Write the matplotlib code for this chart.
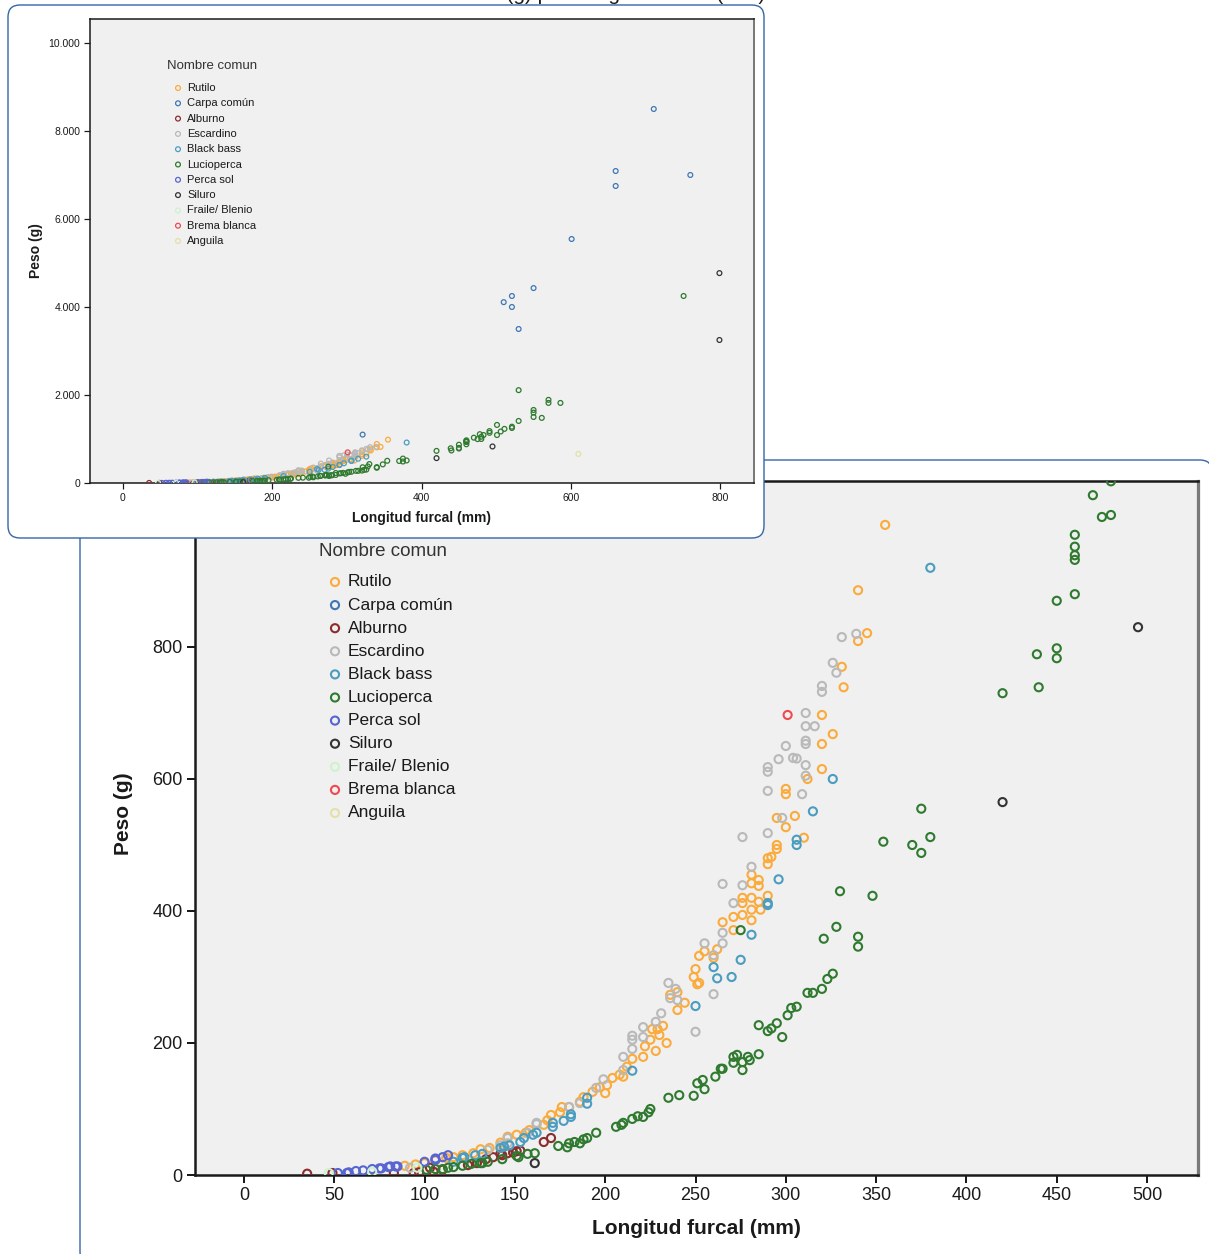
import matplotlib.pyplot as plt
import matplotlib.patches as mpatches
from matplotlib.transforms import IdentityTransform

plt.rcParams['font.family'] = ['Liberation Sans', 'DejaVu Sans']

# species names and colours (legend order)
species = ['Rutilo', 'Carpa común', 'Alburno', 'Escardino', 'Black bass', 'Lucioperca',
           'Perca sol', 'Siluro', 'Fraile/ Blenio', 'Brema blanca', 'Anguila']
colors = ['#fbab3c', '#3f77b4', '#8c2d2d', '#b9b9b9', '#4b9dc0', '#2f7a2f',
          '#5765d3', '#333333', '#cdf3cd', '#ee4b50', '#e3e0a8']

# longitud furcal (mm) / peso (g)
rutilo_x = [355, 340, 345, 340, 331, 332, 320, 326, 320, 320, 312, 300, 300, 305, 295, 300, 310, 295, 295,
            292, 290, 290, 281, 281, 285, 285, 290, 276, 276, 281, 285, 286, 281, 276, 271, 281, 265, 271,
            262, 255, 252, 260, 250, 249, 251, 252, 240, 236, 240, 244, 232, 229, 226, 230, 225, 234, 228,
            222, 221, 215, 212, 210, 208, 204, 201, 200, 197, 193, 188, 186, 180, 176, 175, 170, 168, 166,
            158, 156, 151, 146, 142, 136, 131, 127, 121, 116, 112, 106, 100, 95, 89]
rutilo_y = [985, 886, 821, 809, 770, 739, 697, 668, 653, 615, 600, 585, 577, 544, 541, 527, 511, 500, 494,
            482, 480, 471, 455, 442, 447, 438, 423, 420, 412, 420, 414, 402, 402, 394, 391, 386, 383, 371,
            342, 339, 332, 329, 312, 300, 289, 291, 277, 273, 250, 261, 226, 221, 221, 212, 205, 200, 188,
            195, 179, 176, 164, 149, 152, 147, 136, 124, 133, 126, 118, 111, 103, 103, 95, 91, 83, 76,
            68, 64, 61, 58, 49, 41, 39, 33, 30, 27, 26, 22, 18, 16, 14]

carpa_x = [711, 660, 660, 760, 601, 550, 521, 510, 521, 530, 321]
carpa_y = [8500, 7090, 6750, 7000, 5545, 4430, 4250, 4110, 4000, 3500, 1100]

alburno_x = [35, 49, 83, 94, 97, 103, 105, 110, 124, 129, 134, 138, 142, 143, 146, 149, 151, 153, 166, 170]
alburno_y = [2, 3, 3, 3, 4, 11, 5, 8, 15, 18, 24, 27, 32, 30, 33, 34, 36, 37, 50, 56]

escardino_x = [339, 331, 326, 328, 320, 320, 311, 311, 316, 300, 311, 311, 296, 304, 306, 311, 290, 290, 311,
               290, 309, 298, 290, 276, 281, 265, 276, 271, 265, 265, 255, 260, 235, 239, 236, 240, 260,
               250, 231, 228, 221, 221, 215, 215, 215, 210, 210, 199, 195, 186, 180, 162, 162, 157, 146,
               146, 142, 135, 92]
escardino_y = [820, 815, 776, 761, 741, 732, 700, 680, 680, 650, 658, 653, 630, 632, 631, 621, 618, 611, 605,
               582, 577, 541, 518, 512, 467, 441, 439, 412, 367, 351, 351, 333, 291, 282, 268, 265, 274,
               217, 245, 232, 224, 209, 211, 205, 191, 179, 159, 145, 132, 109, 103, 79, 77, 64, 56,
               48, 45, 38, 11]

blackbass_x = [380, 326, 315, 306, 306, 296, 290, 290, 281, 275, 270, 262, 260, 250, 215, 190, 190, 181, 181,
               177, 171, 171, 162, 160, 155, 153, 147, 144, 142, 132, 128, 122, 121, 116]
blackbass_y = [920, 600, 551, 508, 500, 448, 412, 409, 364, 326, 300, 298, 315, 256, 158, 117, 108, 92, 88,
               82, 79, 73, 64, 61, 56, 50, 45, 43, 41, 32, 30, 27, 26, 20]

lucio_x = [751, 586, 570, 570, 561, 550, 550, 550, 530, 530, 521, 521, 511, 506, 501, 501, 491, 491, 483, 478,
           480, 470, 475, 480, 460, 460, 460, 460, 460, 450, 450, 450, 439, 440, 420, 375, 380, 370, 375,
           354, 330, 348, 328, 340, 340, 321, 326, 323, 320, 315, 312, 306, 303, 301, 298, 295, 292, 290,
           285, 275, 285, 280, 279, 276, 276, 273, 271, 271, 265, 264, 261, 255, 254, 251, 249, 241, 235,
           225, 224, 221, 218, 215, 210, 209, 206, 195, 190, 188, 186, 183, 180, 179, 174, 161, 157, 152,
           151, 143, 135, 132, 131, 126, 121, 116, 113, 110, 106, 101]
lucio_y = [4250, 1820, 1890, 1820, 1480, 1660, 1600, 1500, 2110, 1410, 1280, 1250, 1230, 1170, 1320, 1090, 1180,
           1140, 1090, 1110, 1051, 1030, 997, 1000, 970, 952, 939, 932, 880, 870, 798, 783, 789, 739, 730,
           555, 512, 500, 488, 505, 430, 423, 376, 361, 346, 358, 305, 297, 282, 276, 276, 255, 253, 242,
           209, 230, 222, 218, 227, 371, 183, 174, 179, 159, 171, 182, 179, 170, 161, 161, 149, 130, 144,
           139, 120, 121, 117, 100, 95, 88, 89, 85, 79, 76, 73, 64, 56, 54, 48, 50, 48, 42, 44, 33, 32,
           27, 29, 24, 20, 18, 18, 17, 14, 12, 11, 9, 9, 8]

percasol_x = [52, 57, 58, 62, 66, 71, 75, 76, 80, 81, 84, 85, 100, 106, 106, 110, 113]
percasol_y = [3, 3, 4, 6, 7, 9, 10, 10, 12, 13, 13, 13, 20, 23, 25, 27, 30]

siluro_x = [799, 799, 495, 420, 161]
siluro_y = [4770, 3250, 830, 565, 18]

fraile_x = [47, 71, 96]
fraile_y = [3, 5, 11]

brema_x = [301]
brema_y = [697]

anguila_x = [610]
anguila_y = [660]

series_x = [rutilo_x, carpa_x, alburno_x, escardino_x, blackbass_x, lucio_x,
            percasol_x, siluro_x, fraile_x, brema_x, anguila_x]
series_y = [rutilo_y, carpa_y, alburno_y, escardino_y, blackbass_y, lucio_y,
            percasol_y, siluro_y, fraile_y, brema_y, anguila_y]

# ticks
top_xticks = [0, 200, 400, 600, 800]
top_yticks = [0, 2000, 4000, 6000, 8000, 10000]
top_yticklabels = ['0', '2.000', '4.000', '6.000', '8.000', '10.000']
low_xticks = [0, 50, 100, 150, 200, 250, 300, 350, 400, 450, 500]
low_yticks = [0, 200, 400, 600, 800]

W, H = 1209, 1254
fig = plt.figure(figsize=(W / 100, H / 100), dpi=100)
fig.patch.set_facecolor('white')


def px_axes(l, t, r, b):
    # pixel box (top-left origin) -> figure fraction rect
    return [l / W, 1 - b / H, (r - l) / W, (b - t) / H]


def style_axes(ax, lw, ticklen, tickfs):
    ax.set_facecolor('#f0f0f0')
    for s in ['left', 'bottom', 'top']:
        ax.spines[s].set_color('#1a1a1a')
        ax.spines[s].set_linewidth(lw)
    ax.spines['right'].set_color('#7a7a7a')
    ax.spines['right'].set_linewidth(lw * 1.3)
    ax.tick_params(direction='out', length=ticklen, width=lw * 0.8, colors='#1a1a1a',
                   labelsize=tickfs, pad=3, top=False, right=False)


def legend(ax, box, title_xy, mark_x, text_x, y0, step, title_fs, fs, ms, mlw):
    l, t, r, b = box
    to_ax = lambda px, py: ((px - l) / (r - l), (b - py) / (b - t))
    tx, ty = to_ax(*title_xy)
    ax.text(tx, ty, 'Nombre comun', transform=ax.transAxes, fontsize=title_fs,
            color='#333333', ha='left', va='center')
    for i, (name, c) in enumerate(zip(species, colors)):
        mx, my = to_ax(mark_x, y0 + i * step)
        ax.scatter([mx], [my], s=ms, facecolors='none', edgecolors=c, linewidths=mlw,
                   transform=ax.transAxes, clip_on=False, zorder=5)
        lx, _ = to_ax(text_x, 0)
        ax.text(lx, my, name, transform=ax.transAxes, fontsize=fs, color='#1a1a1a',
                ha='left', va='center')


# lower (zoomed) panel frame
fig.add_artist(mpatches.FancyBboxPatch((80, -10), 1132, H - 460 + 10,
               boxstyle='round,pad=0,rounding_size=12', transform=IdentityTransform(),
               facecolor='white', edgecolor='#3566a8', linewidth=1.0, zorder=0))

low_box = (195, 481, 1198, 1175)
ax2 = fig.add_axes(px_axes(*low_box), zorder=1)
for xs, ys, c in zip(series_x, series_y, colors):
    ax2.scatter(xs, ys, s=34, facecolors='none', edgecolors=c, linewidths=1.5, zorder=3)
ax2.set_xlim(-27.1, 528.2)
ax2.set_ylim(0, 1051.5)
ax2.set_xticks(low_xticks)
ax2.set_yticks(low_yticks)
style_axes(ax2, 1.8, 6, 13)
ax2.set_xlabel('Longitud furcal (mm)', fontsize=15, fontweight='bold', color='#1a1a1a')
ax2.set_ylabel('Peso (g)', fontsize=15, fontweight='bold', color='#1a1a1a')
ax2.xaxis.set_label_coords(0.5, -0.064)
ax2.yaxis.set_label_coords(-0.062, 0.52)
legend(ax2, low_box, (319, 551), 335, 348, 582, 23.1, 13.5, 12.5, 34, 1.5)

# inset (full range) panel frame
fig.add_artist(mpatches.FancyBboxPatch((8, H - 538), 756, 533,
               boxstyle='round,pad=0,rounding_size=12', transform=IdentityTransform(),
               facecolor='white', edgecolor='#3566a8', linewidth=1.0, zorder=2))

top_box = (90, 19, 754, 483)
ax1 = fig.add_axes(px_axes(*top_box), zorder=3)
for xs, ys, c in zip(series_x, series_y, colors):
    ax1.scatter(xs, ys, s=12, facecolors='none', edgecolors=c, linewidths=0.9, zorder=3)
ax1.set_xlim(-44.2, 845.3)
ax1.set_ylim(0, 10545)
ax1.set_xticks(top_xticks)
ax1.set_yticks(top_yticks)
ax1.set_yticklabels(top_yticklabels)
style_axes(ax1, 1.1, 4, 7.5)
ax1.set_xlabel('Longitud furcal (mm)', fontsize=10, fontweight='bold', color='#1a1a1a')
ax1.set_ylabel('Peso (g)', fontsize=10, fontweight='bold', color='#1a1a1a')
ax1.xaxis.set_label_coords(0.5, -0.06)
ax1.yaxis.set_label_coords(-0.071, 0.5)
legend(ax1, top_box, (167, 66), 178, 187, 88, 15.3, 9.5, 8, 12, 0.9)

# title of the original chart, cut off at the top edge as in the source image
fig.text(765 / W, 1.0, 'Peso (g) por Longitud furcal (mm)', ha='right', va='baseline',
         fontsize=15, color='#1a1a1a', zorder=4)

fig.savefig('out.png', dpi=100, facecolor='white')
